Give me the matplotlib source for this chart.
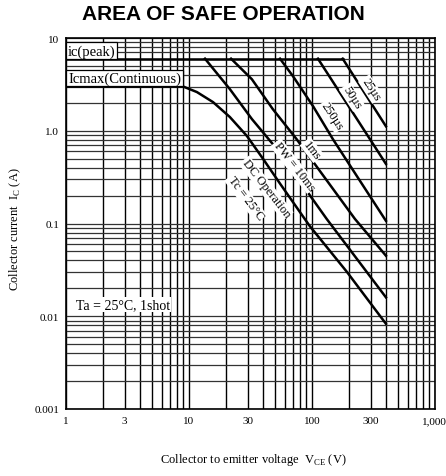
import matplotlib.pyplot as plt
import matplotlib.ticker as mticker

plt.rcParams['font.family'] = ['Liberation Serif', 'DejaVu Serif']

# values (log-log SOA chart)
vce_dc = [1, 9, 11.6, 15.7, 21.5, 29.6, 40, 55, 96, 193, 400]
ic_dc = [3, 3, 2.62, 2.04, 1.41, 0.88, 0.5, 0.27, 0.094, 0.03, 0.0083]
vce_10ms = [13.5, 21.5, 32.5, 52, 132, 400]
ic_10ms = [6, 2.82, 1.34, 0.635, 0.112, 0.016]
vce_1ms = [22, 32.5, 48, 75, 224, 400]
ic_1ms = [6, 3.6, 1.72, 0.815, 0.112, 0.045]
vce_250us = [55, 70, 102, 148, 400]
ic_250us = [6, 3.9, 1.85, 0.815, 0.107]
vce_50us = [112, 400]
ic_50us = [6, 0.44]
vce_25us = [178, 400]
ic_25us = [6, 1.12]
vce_peak = [1, 178]
ic_peak = [6, 6]

xticks = [1, 3, 10, 30, 100, 300, 1000]
xticklabels = ['1', '3', '10', '30', '100', '300', '1,000']
yticks = [0.001, 0.01, 0.1, 1, 10]
yticklabels = ['0.001', '0.01', '0.1', '1.0', '10']

fig = plt.figure(figsize=(4.46, 4.77), dpi=100)
ax = fig.add_axes([0.148, 0.1405, 0.827, 0.7775])
ax.set_xscale('log')
ax.set_yscale('log')
ax.set_xlim(1, 1000)
ax.set_ylim(0.001, 10)

ax.set_xticks(xticks)
ax.set_xticklabels(xticklabels)
ax.set_yticks(yticks)
ax.set_yticklabels(yticklabels)
ax.xaxis.set_minor_locator(mticker.LogLocator(base=10, subs=range(2, 10)))
ax.yaxis.set_minor_locator(mticker.LogLocator(base=10, subs=range(2, 10)))
ax.xaxis.set_minor_formatter(mticker.NullFormatter())
ax.yaxis.set_minor_formatter(mticker.NullFormatter())
ax.tick_params(which='both', length=0, labelsize=8, pad=5)

ax.grid(which='both', axis='x', color='black', lw=1.0)
ax.grid(which='both', axis='y', color='0.2', lw=0.9)
for s in ax.spines.values():
    s.set_linewidth(1.2)

lw = 1.8
ax.plot(vce_dc, ic_dc, color='black', lw=lw, zorder=3)
ax.plot(vce_10ms, ic_10ms, color='black', lw=lw, zorder=3)
ax.plot(vce_1ms, ic_1ms, color='black', lw=lw, zorder=3)
ax.plot(vce_250us, ic_250us, color='black', lw=lw, zorder=3)
ax.plot(vce_50us, ic_50us, color='black', lw=lw, zorder=3)
ax.plot(vce_25us, ic_25us, color='black', lw=lw, zorder=3)
ax.plot(vce_peak, ic_peak, color='black', lw=lw, zorder=3)

wb = dict(facecolor='white', edgecolor='none', pad=0.6)
lab = dict(fontsize=9, ha='center', va='center', zorder=4, bbox=wb)
ax.text(42.3, 0.241, 'DC Operation', rotation=-52, **lab)
ax.text(28.9, 0.189, 'Tc = 25°C', rotation=-53, **lab)
ax.text(71.5, 0.417, 'PW = 10ms', rotation=-52, **lab)
ax.text(100, 0.62, '1ms', rotation=-52, **lab)
ax.text(145, 1.44, '250µs', rotation=-57, **lab)
ax.text(211, 2.31, '50µs', rotation=-57, **lab)
ax.text(302, 2.82, '25µs', rotation=-57, **lab)

box = dict(facecolor='white', edgecolor='black', lw=0.9, pad=1.2)
ax.text(1.04, 7.3, 'ic(peak)', fontsize=10.5, ha='left', va='center', zorder=4, bbox=box)
ax.text(1.04, 3.7, 'Icmax(Continuous)', fontsize=10.5, ha='left', va='center', zorder=4, bbox=box)
ax.text(1.2, 0.0134, 'Ta = 25°C, 1shot', fontsize=10, ha='left', va='center', zorder=4, bbox=wb)

fig.text(0.5, 0.969, 'AREA OF SAFE OPERATION', ha='center', va='center',
         fontsize=15, fontweight='bold', family='Liberation Sans')
fig.text(0.035, 0.52, r'Collector current  I$_\mathregular{C}$ (A)', rotation=90,
         ha='center', va='center', fontsize=9)
fig.text(0.567, 0.036, r'Collector to emitter voltage  V$_\mathregular{CE}$ (V)',
         ha='center', va='center', fontsize=9)

fig.savefig('out.png', dpi=100)
